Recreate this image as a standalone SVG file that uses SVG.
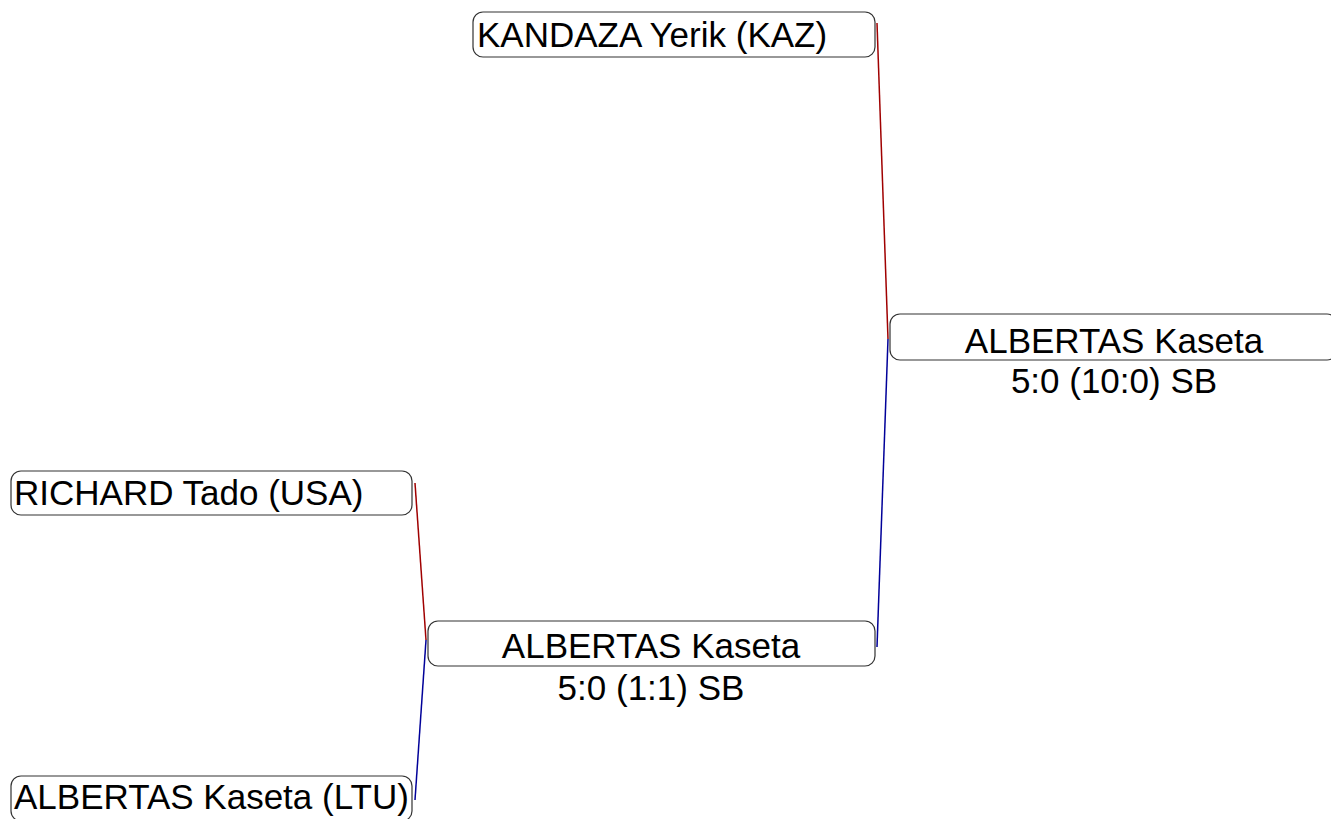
<svg xmlns="http://www.w3.org/2000/svg" width="1331" height="819" viewBox="0 0 1331 819">
<style>
.box{fill:#fff;stroke:#333;stroke-width:1.2}
.t{font-family:"Liberation Sans",Arial,sans-serif;font-size:35px;fill:#000}
.c{text-anchor:middle}
.red{stroke:#a00000;stroke-width:1.5;fill:none}
.blue{stroke:#000099;stroke-width:1.5;fill:none}
</style>
<rect width="1331" height="819" fill="#fff"/>
<g id="connectors">
<line class="red" x1="877" y1="23" x2="888" y2="339"/>
<line class="blue" x1="888" y1="339" x2="877" y2="647"/>
<line class="red" x1="415" y1="483" x2="426" y2="640"/>
<line class="blue" x1="426" y1="640" x2="415" y2="800"/>
</g>
<g id="n-kandaza">
<rect class="box" x="473" y="12" width="402" height="45" rx="10"/>
<text class="t" x="477" y="47">KANDAZA Yerik (KAZ)</text>
</g>
<g id="n-richard">
<rect class="box" x="11" y="471" width="401" height="44" rx="10"/>
<text class="t" x="14" y="505">RICHARD Tado (USA)</text>
</g>
<g id="n-albertas-ltu">
<rect class="box" x="11" y="776" width="401" height="45" rx="10"/>
<text class="t" x="14" y="809">ALBERTAS Kaseta (LTU)</text>
</g>
<g id="n-semifinal">
<rect class="box" x="428" y="621" width="447" height="45" rx="10"/>
<text class="t c" x="651" y="658">ALBERTAS Kaseta</text>
<text class="t c" x="651" y="700">5:0 (1:1) SB</text>
</g>
<g id="n-final">
<rect class="box" x="890" y="314" width="447" height="46" rx="10"/>
<text class="t c" x="1114" y="353">ALBERTAS Kaseta</text>
<text class="t c" x="1114" y="393">5:0 (10:0) SB</text>
</g>
</svg>
